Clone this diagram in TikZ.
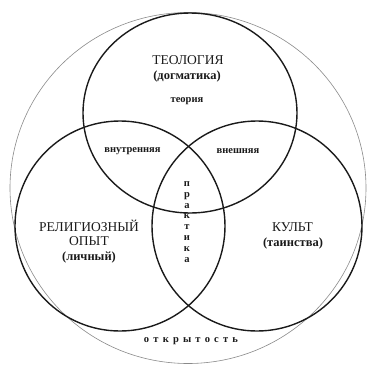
\documentclass[tikz,border=0pt]{standalone}
\usepackage{fontspec}
\setmainfont{Liberation Serif}
\usetikzlibrary{positioning}
\definecolor{ink}{HTML}{1A1A1A}
\definecolor{rimgray}{HTML}{8A8A8A}
\tikzset{
  every picture/.style={line cap=round, line join=round},
  ring/.style={draw=ink, line width=1.4pt},
  rim/.style={draw=rimgray, line width=0.6pt},
  title/.style={font=\fontsize{13.5}{15}\selectfont, text=ink, inner sep=0pt, anchor=base},
  sub/.style={font=\fontsize{12.5}{15}\selectfont\bfseries, text=ink, inner sep=0pt, anchor=base},
  tag/.style={font=\fontsize{10.5}{12}\selectfont\bfseries, text=ink, inner sep=0pt, anchor=base},
  spaced/.style={font=\fontsize{10.5}{10.9}\selectfont\bfseries, text=ink, inner sep=0pt, align=center},
}
\newcommand{\gap}{\hspace{4.2pt}}

\begin{document}
\begin{tikzpicture}[x=1pt, y=-1pt]
  \useasboundingbox (0,0) rectangle (368,365);
  % ===================== circles =====================
  \draw[rim] (188,188) ellipse (178 and 175.5);
  \draw[ring] (190,113) ellipse (107 and 100);
  \draw[ring] (120,226) circle (105);
  \draw[ring] (257,226) circle (105);

  % ===================== labels =====================
  \node[title] (teo) at (188,64.5) {ТЕОЛОГИЯ};
  \node[sub] (dogm) at (187,79) {(догматика)};
  \node[tag] (teor) at (187,102.5) {теория};

  \node[title] (relig) at (89,231.5) {РЕЛИГИОЗНЫЙ};
  \node[title] (opyt) at (89,245.5) {ОПЫТ};
  \node[sub] (lichn) at (89,260) {(личный)};

  \node[title] (kult) at (292.5,231.5) {КУЛЬТ};
  \node[sub] (tainst) at (293,246) {(таинства)};

  \node[tag] (vnutr) at (132.5,152) {внутренняя};
  \node[tag] (vnesh) at (238,153.5) {внешняя};
  \node[spaced] (prakt) at (187,222) {п\\р\\а\\к\\т\\и\\к\\а};

  \node[tag] (otkr) at (191,342.5) {о\gap т\gap к\gap р\gap ы\gap т\gap о\gap с\gap т\gap ь};
\end{tikzpicture}
\end{document}
